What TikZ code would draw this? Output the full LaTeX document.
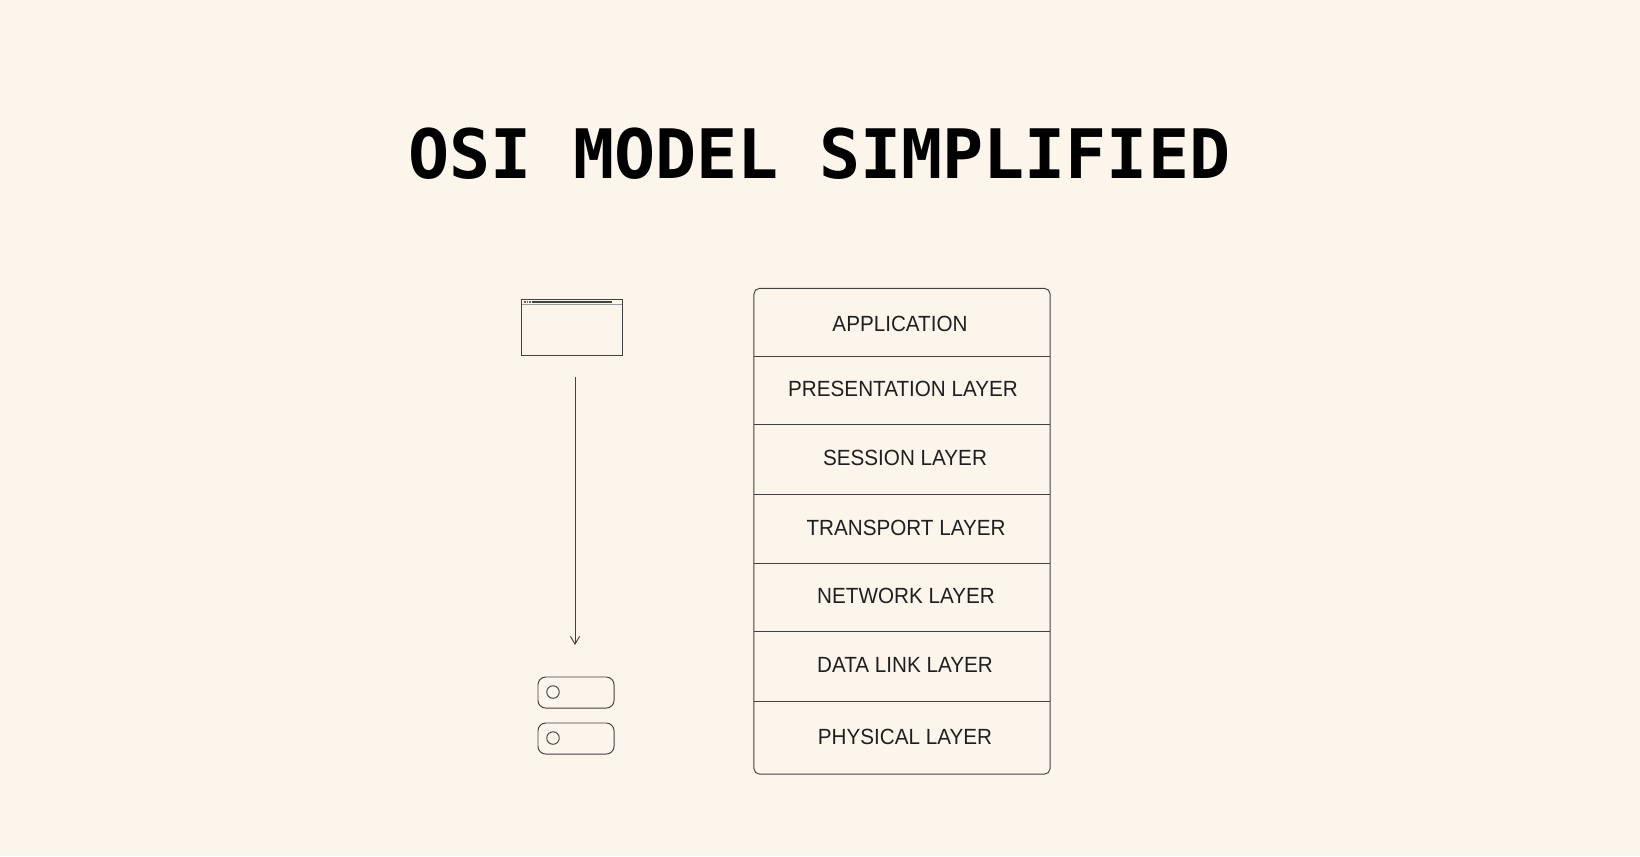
\documentclass[tikz,border=0pt]{standalone}
\usepackage{fontspec}
\setmainfont[FakeStretch=0.94]{Liberation Sans}
\newfontfamily\titlefont{DejaVu Sans Mono}
\usetikzlibrary{arrows.meta}
\definecolor{paper}{HTML}{FCF5EB}
\definecolor{ink}{HTML}{1F1F1F}
\tikzset{
  thin line/.style={draw=ink!85, line width=.27pt},
  layer/.style={font=\fontsize{6.25}{8}\selectfont, text=ink, inner sep=0pt},
  window/.style={thin line, minimum width=1.005cm, minimum height=.565cm, inner sep=0pt},
  serverbox/.style={thin line, rounded corners=2.2pt, minimum width=.76cm, minimum height=.31cm, inner sep=0pt},
  led/.style={thin line, circle, minimum size=.125cm, inner sep=0pt},
  pin/.style={circle, fill=ink!50, minimum size=.25pt, inner sep=0pt},
}
\begin{document}
\begin{tikzpicture}[x=.01cm, y=-.01cm]
    \useasboundingbox[fill=paper] (0,0) rectangle (1640,856);
    \node[font=\titlefont\bfseries\fontsize{19.4}{23}\selectfont, inner sep=0pt] (title) at (819.5,154) {OSI MODEL SIMPLIFIED};

    % browser
    \node[window] (browser) at (572,327.5) {};
    \coordinate (barleft) at (521.7,304.5);
    \coordinate (barright) at (622.3,304.5);
    \draw[draw=ink!45, line width=.2pt] (barleft) -- (barright);
    \node[fill=ink!85, minimum width=.8cm, minimum height=.022cm, inner sep=0pt] (urlbar) at (572,301.8) {};
    \foreach \x/\n in {525/a, 527.5/b, 530/c}
      \node[fill=ink!70, minimum size=.018cm, inner sep=0pt] (dot\n) at (\x,301.8) {};

    % flow
    \coordinate (flowtop) at (575,377);
    \coordinate (flowtip) at (575,645);
    \draw[thin line, -{Straight Barb[length=2.2pt, width=2.6pt]}] (flowtop) -- (flowtip);

    % servers
    \node[serverbox] (serverA) at (576,692.5) {};
    \node[serverbox] (serverB) at (576,738.5) {};
    \node[led] (ledA) at (553,692) {};
    \node[led] (ledB) at (553,738) {};
    \node[pin] at (ledA) {};
    \node[pin] at (ledB) {};

    % layers
    \node[thin line, rounded corners=1.6pt, minimum width=2.96cm, minimum height=4.855cm, inner sep=0pt] (stack) at (902,531.25) {};
    \foreach \y/\n in {356/a, 424/b, 494/c, 563/d, 631/e, 701/f}{
      \coordinate (l\n) at (754,\y);
      \coordinate (r\n) at (1050,\y);
      \draw[thin line] (l\n) -- (r\n);
    }
    \node[layer] (application) at (900,323.7) {APPLICATION};
    \node[layer] (presentation) at (903,388.7) {PRESENTATION LAYER};
    \node[layer] (session) at (905,457.7) {SESSION LAYER};
    \node[layer] (transport) at (906,527.5) {TRANSPORT LAYER};
    \node[layer] (network) at (906,595.7) {NETWORK LAYER};
    \node[layer] (datalink) at (905,664.5) {DATA LINK LAYER};
    \node[layer] (physical) at (905,736.7) {PHYSICAL LAYER};
\end{tikzpicture}
\end{document}
